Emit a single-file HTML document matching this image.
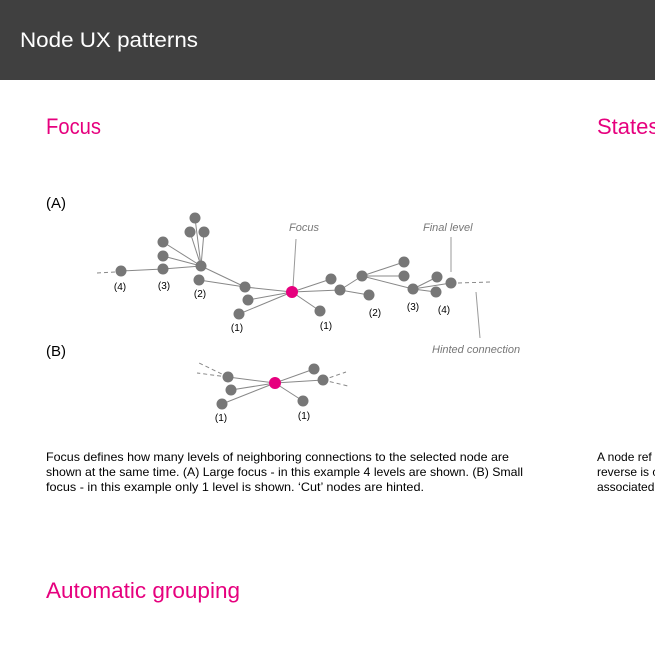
<!DOCTYPE html>
<html><head><meta charset="utf-8"><style>
html,body{margin:0;padding:0;background:#fff;width:655px;height:655px;overflow:hidden}
svg{display:block;font-family:"Liberation Sans",sans-serif}
</style></head><body>
<svg width="655" height="655" viewBox="0 0 655 655" xmlns="http://www.w3.org/2000/svg">
<rect x="0" y="0" width="655" height="80" fill="#404040"/>
<text x="20" y="47" font-size="21" fill="#fff" textLength="178" lengthAdjust="spacingAndGlyphs">Node UX patterns</text>
<g fill="#e6007e" font-size="22">
<text x="46" y="134" textLength="55" lengthAdjust="spacingAndGlyphs">Focus</text>
<text x="597" y="134">States</text>
<text x="46" y="598" textLength="194" lengthAdjust="spacingAndGlyphs">Automatic grouping</text>
</g>
<g font-size="15" fill="#000">
<text x="46" y="208">(A)</text>
<text x="46" y="356">(B)</text>
</g>
<!-- Diagram A edges -->
<g stroke="#888" stroke-width="1" fill="none">
<line x1="292" y1="292" x2="331" y2="279"/><line x1="292" y1="292" x2="340" y2="290"/><line x1="292" y1="292" x2="320" y2="311"/>
<line x1="292" y1="292" x2="245" y2="287"/><line x1="292" y1="292" x2="248" y2="300"/><line x1="292" y1="292" x2="239" y2="314"/>
<line x1="340" y1="290" x2="362" y2="276"/><line x1="340" y1="290" x2="369" y2="295"/>
<line x1="362" y1="276" x2="404" y2="262"/><line x1="362" y1="276" x2="404" y2="276"/><line x1="362" y1="276" x2="413" y2="289"/>
<line x1="413" y1="289" x2="437" y2="277"/><line x1="413" y1="289" x2="436" y2="292"/><line x1="413" y1="289" x2="451" y2="283"/>
<line x1="245" y1="287" x2="201" y2="266"/><line x1="245" y1="287" x2="199" y2="280"/>
<line x1="201" y1="266" x2="163" y2="242"/><line x1="201" y1="266" x2="163" y2="256"/><line x1="201" y1="266" x2="163" y2="269"/>
<line x1="201" y1="266" x2="195" y2="218"/><line x1="201" y1="266" x2="190" y2="232"/><line x1="201" y1="266" x2="204" y2="232"/>
<line x1="163" y1="269" x2="121" y2="271"/>
<line x1="97" y1="273" x2="115" y2="272" stroke-dasharray="4,3"/>
<line x1="458" y1="283" x2="490" y2="282" stroke-dasharray="4,3"/>
<line x1="296" y1="239" x2="293" y2="287" stroke="#999"/>
<line x1="451" y1="237" x2="451" y2="272" stroke="#999"/>
<line x1="476" y1="292" x2="480" y2="338" stroke="#999"/>
<!-- B -->
<line x1="275" y1="383" x2="228" y2="377"/><line x1="275" y1="383" x2="231" y2="390"/><line x1="275" y1="383" x2="222" y2="404"/>
<line x1="275" y1="383" x2="314" y2="369"/><line x1="275" y1="383" x2="323" y2="380"/><line x1="275" y1="383" x2="303" y2="401"/>
<line x1="228" y1="377" x2="197" y2="362" stroke-dasharray="4,3"/><line x1="228" y1="377" x2="197" y2="373" stroke-dasharray="4,3"/>
<line x1="323" y1="380" x2="346" y2="372" stroke-dasharray="4,3"/><line x1="323" y1="380" x2="348" y2="386" stroke-dasharray="4,3"/>
</g>
<g fill="#777">
<circle cx="121" cy="271" r="5.5"/>
<circle cx="163" cy="242" r="5.5"/><circle cx="163" cy="256" r="5.5"/><circle cx="163" cy="269" r="5.5"/>
<circle cx="195" cy="218" r="5.5"/><circle cx="190" cy="232" r="5.5"/><circle cx="204" cy="232" r="5.5"/>
<circle cx="201" cy="266" r="5.5"/><circle cx="199" cy="280" r="5.5"/>
<circle cx="245" cy="287" r="5.5"/><circle cx="248" cy="300" r="5.5"/><circle cx="239" cy="314" r="5.5"/>
<circle cx="331" cy="279" r="5.5"/><circle cx="340" cy="290" r="5.5"/><circle cx="320" cy="311" r="5.5"/>
<circle cx="362" cy="276" r="5.5"/><circle cx="369" cy="295" r="5.5"/>
<circle cx="404" cy="262" r="5.5"/><circle cx="404" cy="276" r="5.5"/><circle cx="413" cy="289" r="5.5"/>
<circle cx="437" cy="277" r="5.5"/><circle cx="436" cy="292" r="5.5"/><circle cx="451" cy="283" r="5.5"/>
<circle cx="228" cy="377" r="5.5"/><circle cx="231" cy="390" r="5.5"/><circle cx="222" cy="404" r="5.5"/>
<circle cx="314" cy="369" r="5.5"/><circle cx="323" cy="380" r="5.5"/><circle cx="303" cy="401" r="5.5"/>
</g>
<circle cx="292" cy="292" r="6" fill="#e6007e"/>
<circle cx="275" cy="383" r="6" fill="#e6007e"/>
<g font-size="10" fill="#000" text-anchor="middle">
<text x="120" y="290">(4)</text><text x="164" y="289">(3)</text><text x="200" y="297">(2)</text><text x="237" y="331">(1)</text>
<text x="326" y="329">(1)</text><text x="375" y="316">(2)</text><text x="413" y="310">(3)</text><text x="444" y="313">(4)</text>
<text x="221" y="421">(1)</text><text x="304" y="419">(1)</text>
</g>
<g font-size="11" fill="#777" font-style="italic">
<text x="289" y="231">Focus</text>
<text x="423" y="231">Final level</text>
<text x="432" y="353">Hinted connection</text>
</g>
<g font-size="12" fill="#000">
<text x="46" y="461" textLength="463" lengthAdjust="spacingAndGlyphs">Focus defines how many levels of neighboring connections to the selected node are</text>
<text x="46" y="476" textLength="477" lengthAdjust="spacingAndGlyphs">shown at the same time. (A) Large focus - in this example 4 levels are shown. (B) Small</text>
<text x="46" y="491" textLength="378" lengthAdjust="spacingAndGlyphs">focus - in this example only 1 level is shown. ‘Cut’ nodes are hinted.</text>
<text x="597" y="461">A node ref</text>
<text x="597" y="476">reverse is c</text>
<text x="597" y="491">associated</text>
</g>
</svg>
</body></html>
